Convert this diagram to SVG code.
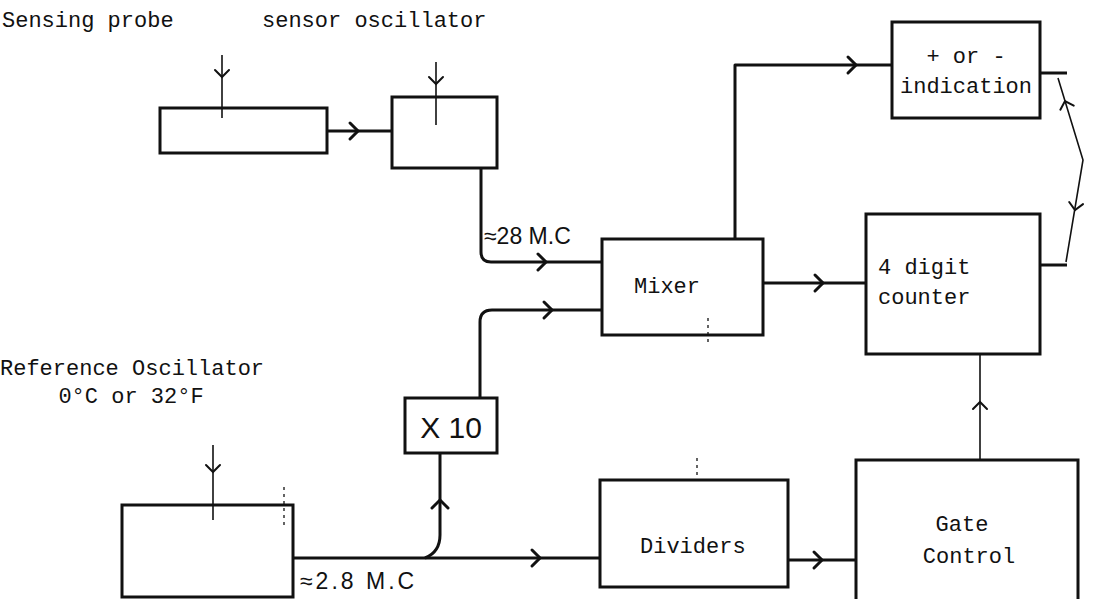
<svg xmlns="http://www.w3.org/2000/svg" width="1119" height="599" viewBox="0 0 1119 599">
<style>
.box{fill:none;stroke:#111;stroke-width:3}
.w{fill:none;stroke:#111;stroke-width:3;stroke-linejoin:round}
.t{fill:none;stroke:#111;stroke-width:1.6}
.d{fill:none;stroke:#111;stroke-width:1.3;stroke-dasharray:3 4}
.lbl{font-family:"Liberation Mono","DejaVu Sans Mono",monospace;font-size:22px;fill:#111}
.hw{font-family:"Liberation Sans","DejaVu Sans",sans-serif;font-size:23px;fill:#111}
</style>
<defs>
<path id="ch" d="M-8,-8 L0,0 L-8,8" fill="none" stroke="#111" stroke-width="3" stroke-linecap="round"/>
<path id="chs" d="M-7,-7 L0,0 L-7,7" fill="none" stroke="#111" stroke-width="2" stroke-linecap="round"/>
</defs>
<rect width="1119" height="599" fill="#fff"/>

<text class="lbl" x="2" y="27">Sensing probe</text>
<text class="lbl" x="262" y="27">sensor oscillator</text>
<text class="lbl" x="0" y="375">Reference Oscillator</text>
<text class="lbl" x="131" y="403" text-anchor="middle">0°C or 32°F</text>

<g id="probe"><rect class="box" x="160" y="108" width="167" height="45"/></g>
<g id="sensor-osc"><rect class="box" x="392" y="97" width="105" height="71"/></g>
<g id="mixer"><rect class="box" x="602" y="239" width="161" height="96"/><text class="lbl" x="634" y="293">Mixer</text></g>
<g id="sign"><rect class="box" x="892" y="22" width="148" height="96"/><text class="lbl" x="966" y="63" text-anchor="middle">+ or -</text><text class="lbl" x="966" y="93" text-anchor="middle">indication</text></g>
<g id="counter"><rect class="box" x="866" y="214" width="174" height="140"/><text class="lbl" x="878" y="274">4 digit</text><text class="lbl" x="878" y="304">counter</text></g>
<g id="x10"><rect class="box" x="405" y="398" width="92" height="55"/><text class="hw" x="451" y="438" text-anchor="middle" style="font-size:30px">X 10</text></g>
<g id="ref-osc"><rect class="box" x="122" y="505" width="171" height="92"/></g>
<g id="dividers"><rect class="box" x="600" y="480" width="188" height="107"/><text class="lbl" x="640" y="553">Dividers</text></g>
<g id="gate"><rect class="box" x="856" y="460" width="222" height="145"/><text class="lbl" x="962" y="531" text-anchor="middle">Gate</text><text class="lbl" x="969" y="563" text-anchor="middle">Control</text></g>

<g id="connectors">
<path class="t" d="M222,55 V118"/><use href="#chs" transform="translate(222,77) rotate(90)"/>
<path class="t" d="M436,62 V125"/><use href="#chs" transform="translate(436,84) rotate(90)"/>
<path class="t" d="M213,445 V520"/><use href="#chs" transform="translate(213,472) rotate(90)"/>
<path class="w" d="M327,131 H392"/><use href="#ch" transform="translate(358,131)"/>
<path class="w" d="M481,168 V252 Q481,262 491,262 H602"/><use href="#ch" transform="translate(546,262)"/>
<path class="w" d="M480,398 V322 Q480,310 492,310 H602"/><use href="#ch" transform="translate(552,310)"/>
<path class="w" d="M735,239 V65 H892"/><use href="#ch" transform="translate(856,65)"/>
<path class="w" d="M763,283 H866"/><use href="#ch" transform="translate(823,283)"/>
<path class="w" d="M293,558 H600"/><use href="#ch" transform="translate(540,558)"/>
<path class="w" d="M425,558 Q440,552 440,535 V453"/><use href="#ch" transform="translate(440,500) rotate(-90)"/>
<path class="w" d="M788,560 H856"/><use href="#ch" transform="translate(822,560)"/>
<path class="t" d="M980,460 V354"/><use href="#chs" transform="translate(980,402) rotate(-90)"/>
<path class="w" d="M1040,73 H1067"/>
<path class="w" d="M1040,265 H1067"/>
<path class="t" d="M1058,78 L1083,160 L1066,262"/>
<use href="#chs" transform="translate(1065,101) rotate(-107)"/>
<use href="#chs" transform="translate(1075,210) rotate(99)"/>
</g>
<text class="hw" x="484" y="244">≈28 M.C</text>
<text class="hw" x="300" y="589" style="letter-spacing:3px">≈2.8 M.C</text>
<path class="d" d="M284,487 V525"/>
<path class="d" d="M708,318 V345"/>
<path class="d" d="M697,458 V478"/>
</svg>
